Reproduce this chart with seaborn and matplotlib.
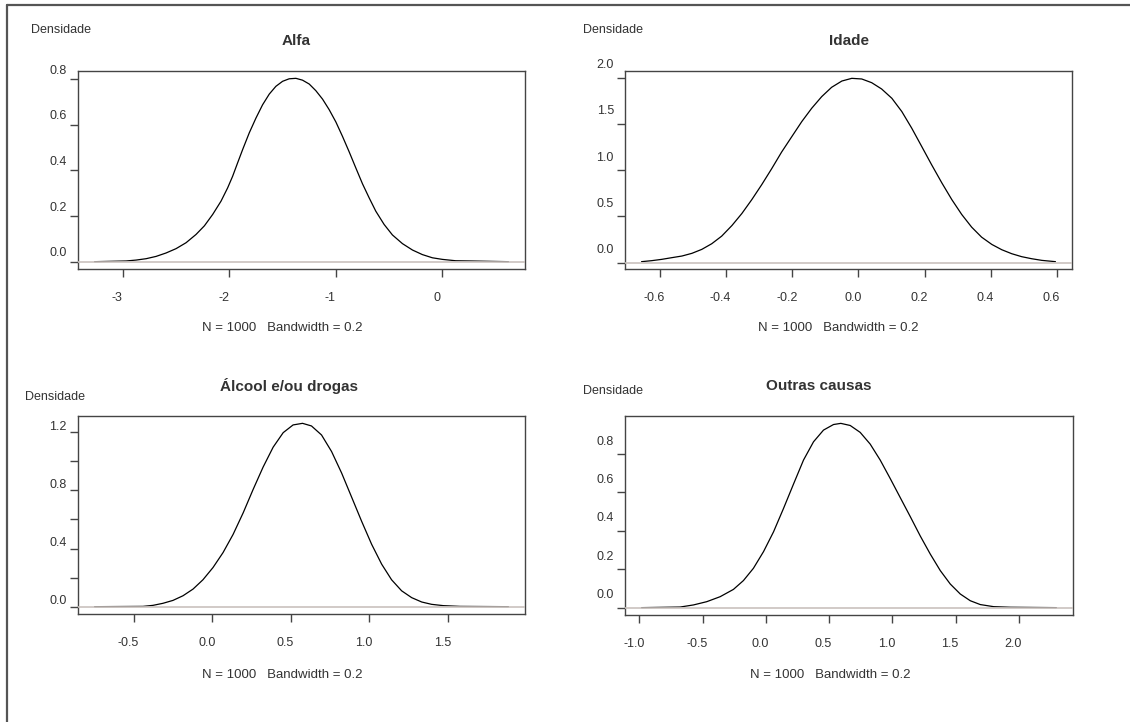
import matplotlib
matplotlib.use("Agg")
import matplotlib.pyplot as plt
import matplotlib.transforms as mtransforms
from matplotlib.lines import Line2D
import seaborn as sns

# curve values (x, density)
alfa_x = [-3.265, -2.969, -2.875, -2.781, -2.688, -2.594, -2.5, -2.406, -2.313, -2.234, -2.156,
          -2.078, -2.016, -1.969, -1.922, -1.875, -1.813, -1.75, -1.688, -1.625, -1.563, -1.5,
          -1.438, -1.375, -1.313, -1.25, -1.188, -1.125, -1.063, -1.0, -0.938, -0.875, -0.813,
          -0.75, -0.688, -0.625, -0.547, -0.469, -0.375, -0.281, -0.188, -0.094, 0.0, 0.125,
          0.266, 0.62]
alfa_y = [0.0, 0.003, 0.007, 0.013, 0.023, 0.038, 0.057, 0.083, 0.119, 0.157, 0.207,
          0.265, 0.323, 0.374, 0.433, 0.491, 0.564, 0.629, 0.687, 0.734, 0.768, 0.790,
          0.801, 0.803, 0.795, 0.778, 0.749, 0.712, 0.666, 0.612, 0.549, 0.481, 0.411,
          0.341, 0.280, 0.221, 0.163, 0.117, 0.079, 0.051, 0.031, 0.017, 0.010, 0.004,
          0.003, 0.0]

idade_x = [-0.655, -0.624, -0.594, -0.564, -0.533, -0.503, -0.473, -0.443, -0.413, -0.382,
           -0.352, -0.322, -0.292, -0.262, -0.232, -0.201, -0.171, -0.141, -0.111, -0.081,
           -0.050, -0.020, 0.010, 0.040, 0.070, 0.101, 0.131, 0.161, 0.191, 0.221, 0.252,
           0.282, 0.312, 0.342, 0.372, 0.403, 0.433, 0.463, 0.493, 0.523, 0.554, 0.595]
idade_y = [0.011, 0.022, 0.036, 0.054, 0.072, 0.101, 0.144, 0.205, 0.287, 0.402,
           0.532, 0.682, 0.844, 1.016, 1.196, 1.364, 1.526, 1.670, 1.795, 1.896,
           1.964, 1.993, 1.986, 1.946, 1.878, 1.777, 1.634, 1.454, 1.257, 1.059, 0.862,
           0.682, 0.521, 0.384, 0.276, 0.197, 0.140, 0.097, 0.065, 0.043, 0.025, 0.011]

alcool_x = [-0.75, -0.442, -0.378, -0.315, -0.251, -0.187, -0.123, -0.060, 0.004, 0.068, 0.132,
            0.196, 0.259, 0.323, 0.387, 0.451, 0.514, 0.574, 0.631, 0.695, 0.759, 0.823,
            0.886, 0.950, 1.014, 1.078, 1.141, 1.205, 1.269, 1.333, 1.396, 1.471, 1.577, 1.885]
alcool_y = [0.0, 0.002, 0.009, 0.023, 0.043, 0.075, 0.121, 0.185, 0.269, 0.372, 0.497,
            0.645, 0.805, 0.960, 1.097, 1.197, 1.250, 1.261, 1.243, 1.181, 1.067, 0.919,
            0.755, 0.588, 0.429, 0.292, 0.185, 0.109, 0.062, 0.032, 0.016, 0.007, 0.002, 0.0]

outras_x = [-0.982, -0.678, -0.572, -0.467, -0.361, -0.256, -0.177, -0.098, -0.018, 0.061, 0.140,
            0.219, 0.298, 0.377, 0.456, 0.535, 0.593, 0.667, 0.746, 0.825, 0.904, 0.983,
            1.062, 1.142, 1.221, 1.300, 1.379, 1.458, 1.537, 1.616, 1.695, 1.801, 1.933, 2.297]
outras_y = [0.0, 0.003, 0.014, 0.031, 0.057, 0.095, 0.141, 0.205, 0.292, 0.395, 0.517,
            0.644, 0.769, 0.864, 0.925, 0.954, 0.960, 0.949, 0.913, 0.852, 0.769, 0.673,
            0.574, 0.474, 0.373, 0.279, 0.193, 0.123, 0.071, 0.036, 0.016, 0.005, 0.002, 0.0]

titles = ["Alfa", "Idade", "Álcool e/ou drogas", "Outras causas"]
subtitle = "N = 1000   Bandwidth = 0.2"
ylabel = "Densidade"

alfa_xticks = [-3, -2, -1, 0]
alfa_yticks = [0.0, 0.2, 0.4, 0.6, 0.8]
alfa_ylabels = ["0.0", "0.2", "0.4", "0.6", "0.8"]
idade_xticks = [-0.6, -0.4, -0.2, 0.0, 0.2, 0.4, 0.6]
idade_yticks = [0.0, 0.5, 1.0, 1.5, 2.0]
idade_ylabels = ["0.0", "0.5", "1.0", "1.5", "2.0"]
alcool_xticks = [-0.5, 0.0, 0.5, 1.0, 1.5]
alcool_yticks = [0.0, 0.2, 0.4, 0.6, 0.8, 1.0, 1.2]
alcool_ylabels = ["0.0", "", "0.4", "", "0.8", "", "1.2"]
outras_xticks = [-1.0, -0.5, 0.0, 0.5, 1.0, 1.5, 2.0]
outras_yticks = [0.0, 0.2, 0.4, 0.6, 0.8]
outras_ylabels = ["0.0", "0.2", "0.4", "0.6", "0.8"]

sns.set_theme(style="white")
plt.rcParams["font.family"] = ["Liberation Sans", "DejaVu Sans"]
plt.rcParams["axes.unicode_minus"] = False

W, H = 1130, 722
fig = plt.figure(figsize=(W / 100, H / 100), dpi=100)
fig.patch.set_facecolor("white")

TXT = "#333333"
EDGE = "#444444"

# layout in pixels: box (left, top, right, bottom), title x/y, sub x/y, ylabel x/y, label shift
panels = [
    dict(x=alfa_x, y=alfa_y, xt=alfa_xticks, yt=alfa_yticks, yl=alfa_ylabels, xfmt="{:.0f}",
         box=(78, 71, 525, 269), title=(296, 41), sub=(282, 328), dens=(31, 30), dy=10),
    dict(x=idade_x, y=idade_y, xt=idade_xticks, yt=idade_yticks, yl=idade_ylabels, xfmt="{:.1f}",
         box=(625, 71, 1072, 269), title=(849, 41), sub=(838, 328), dens=(583, 30), dy=14),
    dict(x=alcool_x, y=alcool_y, xt=alcool_xticks, yt=alcool_yticks, yl=alcool_ylabels, xfmt="{:.1f}",
         box=(78, 416, 525, 614), title=(289, 386), sub=(282, 675), dens=(25, 397), dy=7),
    dict(x=outras_x, y=outras_y, xt=outras_xticks, yt=outras_yticks, yl=outras_ylabels, xfmt="{:.1f}",
         box=(625, 416, 1073, 615), title=(819, 386), sub=(830, 675), dens=(583, 391), dy=14),
]

for p, title in zip(panels, titles):
    l, t, r, b = p["box"]
    ax = fig.add_axes([l / W, 1 - b / H, (r - l) / W, (b - t) / H])
    sns.lineplot(x=p["x"], y=p["y"], ax=ax, color="black", linewidth=0.9,
                 sort=False, estimator=None)
    ax.axhline(0, color="#c9c1bd", linewidth=1.2, zorder=5)

    # R style 4% padding around the data range
    xr = max(p["x"]) - min(p["x"])
    yr = max(p["y"]) - min(p["y"])
    ax.set_xlim(min(p["x"]) - 0.04 * xr, max(p["x"]) + 0.04 * xr)
    ax.set_ylim(min(p["y"]) - 0.04 * yr, max(p["y"]) + 0.04 * yr)

    ax.set_xticks(p["xt"])
    ax.set_xticklabels([p["xfmt"].format(v) for v in p["xt"]])
    ax.set_yticks(p["yt"])
    ax.set_yticklabels(p["yl"])
    ax.set_xlabel("")
    ax.set_ylabel("")
    ax.tick_params(axis="both", direction="out", length=6, width=1, color=EDGE,
                   labelsize=9, labelcolor=TXT, left=True, bottom=True)
    ax.tick_params(axis="y", pad=2)
    ax.tick_params(axis="x", pad=10.5)
    for s in ax.spines.values():
        s.set_color(EDGE)
        s.set_linewidth(1)
    yshift = mtransforms.ScaledTranslation(0, p["dy"] / 100, fig.dpi_scale_trans)
    for lab in ax.get_yticklabels():
        lab.set_transform(lab.get_transform() + yshift)
    xshift = mtransforms.ScaledTranslation(-0.055, 0, fig.dpi_scale_trans)
    for lab in ax.get_xticklabels():
        lab.set_transform(lab.get_transform() + xshift)

    fig.text(p["title"][0] / W, 1 - p["title"][1] / H, title, ha="center", va="center",
             fontsize=11, fontweight="bold", color=TXT)
    fig.text(p["sub"][0] / W, 1 - p["sub"][1] / H, subtitle, ha="center", va="center",
             fontsize=9.5, color=TXT)
    fig.text(p["dens"][0] / W, 1 - p["dens"][1] / H, ylabel, ha="left", va="center",
             fontsize=9, color=TXT)

# outer frame (left and top edges only)
fig.add_artist(Line2D([7 / W, 7 / W], [0, 1 - 5 / H], color="#555555", linewidth=1.6))
fig.add_artist(Line2D([7 / W, 1], [1 - 5 / H, 1 - 5 / H], color="#555555", linewidth=1.6))

fig.savefig("out.png", dpi=100, facecolor="white")
